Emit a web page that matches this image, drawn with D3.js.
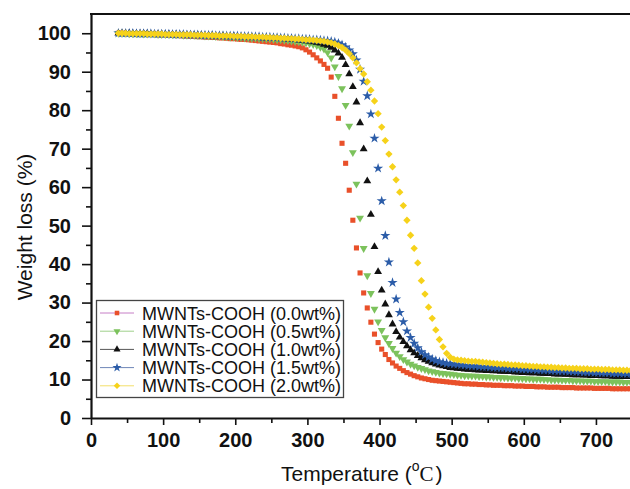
<!DOCTYPE html>
<html>
<head>
<meta charset="utf-8">
<script src="https://cdn.jsdelivr.net/npm/d3@7"></script>
<style>
  body { margin: 0; background: #fff; }
  svg { display: block; font-family: "Liberation Sans", Arial, sans-serif; }
</style>
</head>
<body>
<div id="chart"></div>
<script>
// TGA sampling: one point every 5 degC from 38 degC
const T_START = 38, T_STEP = 5, N_POINTS = 143;

const labels = [
  "MWNTs-COOH (0.0wt%)",
  "MWNTs-COOH (0.5wt%)",
  "MWNTs-COOH (1.0wt%)",
  "MWNTs-COOH (1.5wt%)",
  "MWNTs-COOH (2.0wt%)"
];

// weight (%), rows of 10 points (50 degC)
const wt00 = [
  100.0, 100.0, 99.9, 99.9, 99.9, 99.8, 99.8, 99.8, 99.7, 99.7,
  99.7, 99.6, 99.6, 99.6, 99.5, 99.5, 99.4, 99.4, 99.3, 99.3,
  99.2, 99.2, 99.1, 99.1, 99.0, 99.0, 98.9, 98.9, 98.8, 98.8,
  98.7, 98.6, 98.6, 98.5, 98.4, 98.4, 98.3, 98.2, 98.1, 98.0,
  97.9, 97.8, 97.7, 97.6, 97.5, 97.3, 97.2, 97.0, 96.9, 96.7,
  96.5, 96.2, 95.7, 95.1, 94.4, 93.6, 92.8, 91.9, 90.9, 88.6,
  83.6, 77.9, 71.4, 66.2, 59.2, 51.4, 44.2, 37.7, 32.5, 28.6,
  24.9, 21.8, 19.6, 17.9, 16.5, 15.2, 14.3, 13.5, 12.9, 12.3,
  11.8, 11.4, 11.0, 10.7, 10.4, 10.2, 10.0, 9.8, 9.7, 9.6,
  9.5, 9.4, 9.3, 9.2, 9.1, 9.0, 8.9, 8.9, 8.8, 8.8,
  8.7, 8.7, 8.6, 8.6, 8.5, 8.5, 8.5, 8.4, 8.4, 8.4,
  8.3, 8.3, 8.3, 8.2, 8.2, 8.2, 8.1, 8.1, 8.1, 8.0,
  8.0, 8.0, 8.0, 7.9, 7.9, 7.9, 7.9, 7.8, 7.8, 7.8,
  7.8, 7.8, 7.7, 7.7, 7.7, 7.7, 7.7, 7.6, 7.6, 7.6,
  7.6, 7.6, 7.6
];
const wt05 = [
  100.0, 100.0, 100.0, 99.9, 99.9, 99.9, 99.9, 99.8, 99.8, 99.8,
  99.8, 99.7, 99.7, 99.7, 99.7, 99.6, 99.6, 99.6, 99.5, 99.5,
  99.5, 99.4, 99.4, 99.4, 99.3, 99.3, 99.3, 99.2, 99.2, 99.1,
  99.1, 99.0, 99.0, 98.9, 98.9, 98.8, 98.8, 98.7, 98.7, 98.6,
  98.6, 98.5, 98.5, 98.4, 98.3, 98.3, 98.2, 98.1, 98.0, 97.9,
  97.8, 97.7, 97.5, 97.3, 97.1, 96.8, 96.4, 95.9, 95.0, 93.6,
  91.3, 88.8, 85.6, 81.3, 75.9, 69.0, 60.8, 52.0, 44.1, 37.0,
  32.4, 28.3, 25.0, 22.8, 20.9, 19.4, 18.1, 16.9, 16.0, 15.2,
  14.6, 14.0, 13.6, 13.2, 12.9, 12.6, 12.3, 12.1, 11.9, 11.7,
  11.6, 11.5, 11.4, 11.3, 11.2, 11.1, 11.0, 11.0, 10.9, 10.9,
  10.8, 10.8, 10.7, 10.7, 10.6, 10.6, 10.5, 10.5, 10.4, 10.4,
  10.4, 10.3, 10.3, 10.2, 10.2, 10.1, 10.1, 10.1, 10.0, 10.0,
  9.9, 9.9, 9.9, 9.8, 9.8, 9.8, 9.7, 9.7, 9.7, 9.6,
  9.6, 9.6, 9.5, 9.5, 9.5, 9.5, 9.4, 9.4, 9.4, 9.4,
  9.3, 9.3, 9.3
];
const wt10 = [
  100.0, 100.0, 100.0, 100.0, 99.9, 99.9, 99.9, 99.9, 99.9, 99.8,
  99.8, 99.8, 99.8, 99.7, 99.7, 99.7, 99.7, 99.6, 99.6, 99.6,
  99.6, 99.5, 99.5, 99.5, 99.4, 99.4, 99.4, 99.3, 99.3, 99.3,
  99.2, 99.2, 99.2, 99.1, 99.1, 99.0, 99.0, 99.0, 98.9, 98.9,
  98.8, 98.8, 98.7, 98.7, 98.6, 98.6, 98.5, 98.4, 98.4, 98.3,
  98.2, 98.1, 98.0, 97.9, 97.7, 97.6, 97.4, 97.1, 96.8, 96.3,
  95.6, 94.8, 93.7, 91.8, 89.4, 86.1, 82.1, 76.7, 69.9, 61.6,
  52.9, 44.5, 38.0, 33.2, 29.6, 26.8, 24.4, 22.4, 21.0, 19.8,
  18.7, 17.7, 16.9, 16.2, 15.6, 15.1, 14.7, 14.3, 14.0, 13.7,
  13.5, 13.3, 13.1, 13.0, 12.9, 12.8, 12.7, 12.6, 12.6, 12.5,
  12.4, 12.4, 12.3, 12.3, 12.2, 12.2, 12.1, 12.1, 12.0, 12.0,
  11.9, 11.9, 11.8, 11.8, 11.7, 11.7, 11.7, 11.6, 11.6, 11.5,
  11.5, 11.4, 11.4, 11.4, 11.3, 11.3, 11.2, 11.2, 11.2, 11.1,
  11.1, 11.0, 11.0, 11.0, 10.9, 10.9, 10.9, 10.8, 10.8, 10.8,
  10.7, 10.7, 10.7
];
const wt15 = [
  100.0, 100.0, 100.0, 100.0, 100.0, 99.9, 99.9, 99.9, 99.9, 99.9,
  99.8, 99.8, 99.8, 99.8, 99.8, 99.7, 99.7, 99.7, 99.7, 99.6,
  99.6, 99.6, 99.6, 99.5, 99.5, 99.5, 99.5, 99.4, 99.4, 99.4,
  99.3, 99.3, 99.3, 99.3, 99.2, 99.2, 99.2, 99.1, 99.1, 99.1,
  99.0, 99.0, 99.0, 98.9, 98.9, 98.8, 98.8, 98.7, 98.7, 98.6,
  98.6, 98.5, 98.5, 98.4, 98.3, 98.3, 98.2, 98.1, 98.0, 97.9,
  97.7, 97.4, 97.0, 96.4, 95.6, 94.6, 93.0, 90.6, 87.5, 83.7,
  79.0, 72.7, 64.9, 56.4, 47.4, 40.5, 35.2, 30.9, 27.4, 25.0,
  22.6, 20.9, 19.4, 18.2, 17.2, 16.4, 15.8, 15.3, 14.9, 14.6,
  14.4, 14.2, 14.1, 14.0, 13.9, 13.8, 13.7, 13.6, 13.5, 13.5,
  13.4, 13.3, 13.3, 13.2, 13.1, 13.1, 13.0, 13.0, 12.9, 12.9,
  12.8, 12.8, 12.7, 12.7, 12.6, 12.6, 12.5, 12.5, 12.4, 12.4,
  12.3, 12.3, 12.2, 12.2, 12.2, 12.1, 12.1, 12.0, 12.0, 11.9,
  11.9, 11.9, 11.8, 11.8, 11.7, 11.7, 11.7, 11.6, 11.6, 11.6,
  11.5, 11.5, 11.5
];
const wt20 = [
  100.0, 100.0, 100.0, 99.9, 99.9, 99.9, 99.9, 99.9, 99.8, 99.8,
  99.8, 99.8, 99.8, 99.7, 99.7, 99.7, 99.7, 99.6, 99.6, 99.6,
  99.6, 99.5, 99.5, 99.5, 99.5, 99.4, 99.4, 99.4, 99.3, 99.3,
  99.3, 99.3, 99.2, 99.2, 99.2, 99.1, 99.1, 99.1, 99.0, 99.0,
  99.0, 98.9, 98.9, 98.8, 98.8, 98.7, 98.7, 98.6, 98.6, 98.5,
  98.5, 98.4, 98.3, 98.3, 98.2, 98.1, 98.0, 97.9, 97.7, 97.5,
  97.2, 96.8, 96.3, 95.6, 94.7, 93.6, 92.3, 90.8, 89.4, 87.4,
  85.2, 82.4, 79.1, 75.6, 72.1, 68.6, 65.3, 61.9, 58.7, 55.2,
  51.4, 47.5, 44.1, 40.3, 35.7, 32.2, 28.8, 25.9, 22.9, 20.4,
  18.5, 16.8, 15.8, 15.3, 15.1, 15.0, 14.9, 14.8, 14.7, 14.7,
  14.6, 14.5, 14.4, 14.3, 14.2, 14.1, 14.0, 14.0, 13.9, 13.8,
  13.8, 13.7, 13.6, 13.6, 13.5, 13.4, 13.4, 13.3, 13.3, 13.2,
  13.2, 13.1, 13.1, 13.0, 13.0, 12.9, 12.9, 12.9, 12.8, 12.8,
  12.8, 12.7, 12.7, 12.7, 12.6, 12.6, 12.6, 12.5, 12.5, 12.5,
  12.4, 12.4, 12.4
];

const yTicks = [0, 10, 20, 30, 40, 50, 60, 70, 80, 90, 100];
const xTicks = [0, 100, 200, 300, 400, 500, 600, 700];

const COLORS = ["#e9502a", "#7cc25c", "#111111", "#2b5ca8", "#f6d21a"];
const LEGEND_LINE = ["#c67fc6", "#9ed08a", "#555555", "#6f86b8", "#f3df6a"];

const width = 630;
const height = 489;
const MARGIN = { TOP: 14, BOTTOM: 71, LEFT: 91, RIGHT: -2 };

let svg = d3.select("#chart")
  .append("svg")
  .attr("width", width)
  .attr("height", height);

let x = d3.scaleLinear()
  .domain([0, 750])
  .range([MARGIN.LEFT, width - MARGIN.RIGHT]);
let y = d3.scaleLinear()
  .domain([0, 105])
  .range([height - MARGIN.BOTTOM, MARGIN.TOP]);

const temps = d3.range(N_POINTS).map(i => T_START + i * T_STEP);
const series = [wt00, wt05, wt10, wt15, wt20];

// marker shapes: square, down triangle, up triangle, star, diamond
function markerPath(i, scale = 1) {
  const shapes = [
    d3.symbol(d3.symbolSquare, 26 * scale),
    d3.symbol(d3.symbolTriangle, 27 * scale),
    d3.symbol(d3.symbolTriangle, 27 * scale),
    d3.symbol(d3.symbolStar, 32 * scale),
    d3.symbol(d3.symbolSquare, 27 * scale)
  ];
  return shapes[i]();
}
const markerRot = [0, 180, 0, 0, 45];

// data markers
series.forEach((vals, i) => {
  svg.append("g")
    .selectAll("path")
    .data(vals)
    .enter()
    .append("path")
    .attr("d", markerPath(i))
    .attr("transform", (d, k) => "translate(" + x(temps[k]) + "," + y(d) + ") rotate(" + markerRot[i] + ")")
    .attr("fill", COLORS[i]);
});

// y axis (major + minor)
let yAxis = svg.append("g")
  .attr("transform", "translate(" + MARGIN.LEFT + ",0)")
  .call(d3.axisLeft(y).tickValues(yTicks).tickSize(9).tickSizeOuter(0).tickPadding(11));
svg.append("g")
  .attr("transform", "translate(" + MARGIN.LEFT + ",0)")
  .call(d3.axisLeft(y).tickValues(d3.range(5, 100, 10)).tickSize(5).tickFormat(""))
  .select(".domain").remove();

// x axis (major + minor)
let xAxis = svg.append("g")
  .attr("transform", "translate(0," + y(0) + ")")
  .call(d3.axisBottom(x).tickValues(xTicks).tickSize(7).tickSizeOuter(0).tickPadding(8));
svg.append("g")
  .attr("transform", "translate(0," + y(0) + ")")
  .call(d3.axisBottom(x).tickValues(d3.range(50, 750, 100)).tickSize(5).tickFormat(""))
  .select(".domain").remove();

svg.selectAll(".domain").attr("stroke", "#111").attr("stroke-width", 2.2);
svg.selectAll(".tick line").attr("stroke", "#111").attr("stroke-width", 1.6);
svg.selectAll(".tick text")
  .attr("fill", "#111")
  .style("font-size", "20px")
  .style("font-weight", "bold");

// top frame line
svg.append("line")
  .attr("x1", MARGIN.LEFT - 1).attr("x2", width)
  .attr("y1", MARGIN.TOP).attr("y2", MARGIN.TOP)
  .attr("stroke", "#111").attr("stroke-width", 2.2);

// axis titles
let xTitle = svg.append("text")
  .attr("x", 281)
  .attr("y", 481)
  .attr("fill", "#111")
  .style("font-size", "21px");
xTitle.append("tspan").text("Temperature (");
xTitle.append("tspan").attr("dy", -10).style("font-size", "14px").text("o");
xTitle.append("tspan").attr("dy", 10)
  .style("font-family", "'Liberation Serif', 'Times New Roman', serif")
  .style("font-size", "21px").text("C");
xTitle.append("tspan").attr("dx", 2).text(")");

svg.append("text")
  .attr("transform", "translate(32,227) rotate(-90)")
  .attr("text-anchor", "middle")
  .attr("fill", "#111")
  .style("font-size", "21px")
  .text("Weight loss (%)");

// legend
let legend = svg.append("g");
legend.append("rect")
  .attr("x", 96.5).attr("y", 300.5)
  .attr("width", 247).attr("height", 97)
  .attr("fill", "#fff")
  .attr("stroke", "#444")
  .attr("stroke-width", 1.3);

labels.forEach((lab, i) => {
  const cy = 313 + i * 18.2;
  legend.append("line")
    .attr("x1", 100).attr("x2", 134)
    .attr("y1", cy).attr("y2", cy)
    .attr("stroke", LEGEND_LINE[i])
    .attr("stroke-width", 1);
  legend.append("path")
    .attr("d", markerPath(i, 0.8))
    .attr("transform", "translate(117," + cy + ") rotate(" + markerRot[i] + ")")
    .attr("fill", COLORS[i]);
  legend.append("text")
    .attr("x", 142)
    .attr("y", cy + 6.5)
    .attr("fill", "#111")
    .style("font-size", "18px")
    .text(lab);
});
</script>
</body>
</html>
